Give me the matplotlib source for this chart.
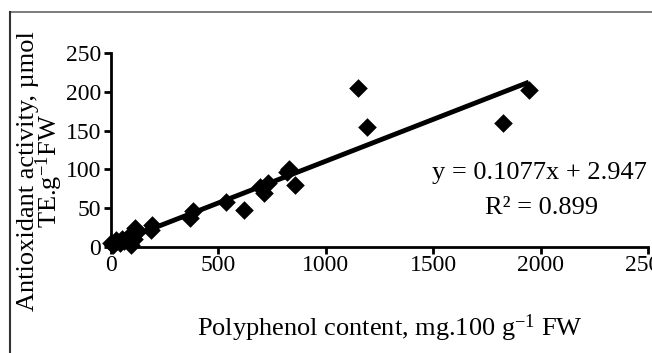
import numpy as np
import matplotlib.pyplot as plt
from matplotlib.lines import Line2D

plt.rcParams['font.family'] = ['Liberation Serif', 'DejaVu Serif']
plt.rcParams['mathtext.fontset'] = 'custom'
plt.rcParams['mathtext.rm'] = 'Liberation Serif'
plt.rcParams['mathtext.it'] = 'Liberation Serif:italic'

# polyphenol content (x) and antioxidant activity (y)
polyphenol = [0, 10, 25, 40, 50, 60, 75, 95, 100, 105, 110, 117, 185, 192,
              370, 380, 535, 620, 695, 710, 730, 820, 830, 855,
              1150, 1190, 1825, 1945]
antioxidant = [5, 2, 9, 5, 10, 8, 12, 3, 15, 10, 24, 18, 22, 28,
               38, 47, 58, 48, 77, 70, 82, 97, 100, 80,
               205, 155, 160, 202]

slope = 0.1077
intercept = 2.947
r2 = 0.899

xticks = [0, 500, 1000, 1500, 2000, 2500]
yticks = [0, 50, 100, 150, 200, 250]

fig = plt.figure(figsize=(6.52, 3.53), dpi=100)
ax = fig.add_axes([111/652, 1 - 247/353, (648 - 111)/652, (247 - 53)/353])

ax.scatter(polyphenol, antioxidant, marker='D', s=90, color='black',
           zorder=3, clip_on=False, linewidths=0)
xfit = np.array([min(polyphenol), max(polyphenol)])
ax.plot(xfit, slope * xfit + intercept, color='black', lw=3.5,
        solid_capstyle='butt', zorder=2)

ax.set_xlim(0, 2500)
ax.set_ylim(0, 250)
ax.set_xticks(xticks)
ax.set_yticks(yticks)
ax.tick_params(labelsize=17, width=2, length=5)
ax.tick_params(axis='x', pad=1)
ax.tick_params(axis='y', pad=2)
for s in ['top', 'right']:
    ax.spines[s].set_visible(False)
for s in ['left', 'bottom']:
    ax.spines[s].set_linewidth(2)

ax.text(2495, 95, 'y = 0.1077x + 2.947', ha='right', va='center', fontsize=19)
ax.text(2006, 50, 'R² = %.3f' % r2, ha='center', va='center', fontsize=19)

fig.text(390/652, 1 - 328/353, r'Polyphenol content, mg.100 g$^{\mathregular{-1}}$ FW',
         ha='center', va='center', fontsize=19)
fig.text(41/652, 1 - 171/353, 'Antioxidant activity, µmol\n' + r'TE.g$^{\mathregular{-1}}$FW',
         ha='center', va='center', rotation=90, fontsize=19, linespacing=0.8)

# outer frame
fig.add_artist(Line2D([10/652, 1], [1 - 12/353, 1 - 12/353], color='#666666', lw=1.2))
fig.add_artist(Line2D([10/652, 10/652], [0, 1 - 12/353], color='#333333', lw=1.5))

fig.savefig('out.png', dpi=100)
